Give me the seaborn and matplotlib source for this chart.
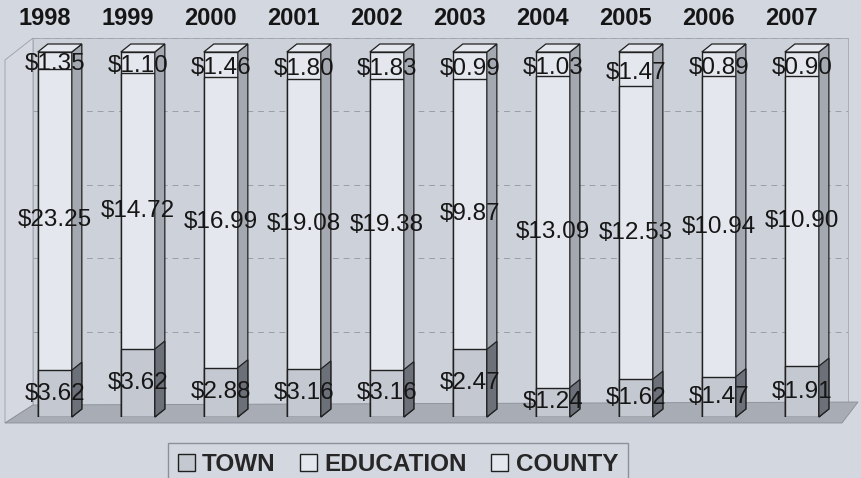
import numpy as np
import pandas as pd
import seaborn as sns
import matplotlib.pyplot as plt
from matplotlib.patches import Polygon, Patch
from matplotlib.transforms import ScaledTranslation

# values (dollars)
years = ['1998', '1999', '2000', '2001', '2002', '2003', '2004', '2005', '2006', '2007']
town = [3.62, 3.62, 2.88, 3.16, 3.16, 2.47, 1.24, 1.62, 1.47, 1.91]
education = [23.25, 14.72, 16.99, 19.08, 19.38, 9.87, 13.09, 12.53, 10.94, 10.90]
county = [1.35, 1.10, 1.46, 1.80, 1.83, 0.99, 1.03, 1.47, 0.89, 0.90]

df = pd.DataFrame({'year': years, 'TOWN': town, 'EDUCATION': education, 'COUNTY': county})
total = df[['TOWN', 'EDUCATION', 'COUNTY']].sum(axis=1)
df['town_top'] = df['TOWN'] / total * 100
df['edu_top'] = (df['TOWN'] + df['EDUCATION']) / total * 100
df['all'] = 100.0

W, H = 862, 478
BG = '#d3d7e0'
FRONT = '#e4e7ed'
TOWN_C = '#c4c8d0'
SIDE = '#a4a8b0'
SIDE_T = '#6c7079'
EDGE = '#202020'

sns.set_theme(style='white')
plt.rcParams['font.family'] = ['Liberation Sans', 'DejaVu Sans']

fig = plt.figure(figsize=(W / 100, H / 100), dpi=100, facecolor=BG)


def fx(px):
    return px / W


def fy(py):
    return 1 - py / H


# back wall with dashed gridlines
wall = fig.add_axes([fx(33), fy(405), fx(848) - fx(33), fy(38) - fy(405)], zorder=0)
wall.set_facecolor('#cdd1da')
wall.set_xlim(0, 1)
wall.set_ylim(0, 100)
wall.set_yticks(range(0, 101, 20))
wall.set_xticks([])
wall.grid(axis='y', color='#9a9ea6', linestyle=(0, (6, 5)), linewidth=0.7)
wall.tick_params(left=False, labelleft=False)
for s in wall.spines.values():
    s.set_color('#a2a6ae')
    s.set_linewidth(0.6)

# left wall
fig.add_artist(Polygon([[fx(5), fy(60)], [fx(33), fy(38)], [fx(33), fy(405)], [fx(5), fy(423)]],
                       closed=True, transform=fig.transFigure, facecolor='#d5d8e0',
                       edgecolor='#9a9ea6', lw=0.6, zorder=-1))

# main axes = front plane of the bars
ax = fig.add_axes([fx(5), fy(417), fx(850) - fx(5), fy(52) - fy(417)], zorder=1)
ax.patch.set_alpha(0)

# floor
ax.add_patch(Polygon([[fx(5), fy(423)], [fx(33), fy(405)], [fx(858), fy(402)], [fx(842), fy(423)]],
                     closed=True, transform=fig.transFigure, facecolor='#a8acb4',
                     edgecolor='#8a8e96', lw=0.6, clip_on=False, zorder=0.2))

bw = 0.41
common = dict(data=df, x='year', width=bw, edgecolor=EDGE, linewidth=1, saturation=1,
              errorbar=None, ax=ax)
sns.barplot(y='all', color=FRONT, **common)
sns.barplot(y='edu_top', color=FRONT, **common)
sns.barplot(y='town_top', color=TOWN_C, **common)

ax.set_xlim(-0.6, 9.58)
ax.set_ylim(0, 100)

# depth of bars, in data units
ppx = (fx(850) - fx(5)) * W / (ax.get_xlim()[1] - ax.get_xlim()[0])
ppy = (fy(52) - fy(417)) * H / 100
dx = 10 / ppx
dy = 8 / ppy

full_bars = ax.patches[1:1 + len(years)] if len(ax.patches) > 3 * len(years) else ax.patches[:len(years)]
for i, p in enumerate(full_bars):
    xl = p.get_x()
    xr = xl + p.get_width()
    t = df['town_top'][i]
    # right side
    ax.add_patch(Polygon([[xr, 0], [xr + dx, dy], [xr + dx, 100 + dy], [xr, 100]], closed=True,
                         facecolor=SIDE, edgecolor=EDGE, lw=0.9, clip_on=False, zorder=2))
    ax.add_patch(Polygon([[xr, 0], [xr + dx, dy], [xr + dx, t + dy], [xr, t]], closed=True,
                         facecolor=SIDE_T, edgecolor=EDGE, lw=0.9, clip_on=False, zorder=2))
    # top face
    ax.add_patch(Polygon([[xl, 100], [xl + dx, 100 + dy], [xr + dx, 100 + dy], [xr, 100]], closed=True,
                         facecolor=FRONT, edgecolor=EDGE, lw=0.9, clip_on=False, zorder=2))
    xc = xl + p.get_width() / 2
    e = df['edu_top'][i]
    lab = dict(ha='center', va='center', fontsize=17.5, color='#161616', zorder=3, clip_on=False)
    ax.text(xc, t / 2, f'${town[i]:.2f}', **lab)
    ax.text(xc, (t + e) / 2, f'${education[i]:.2f}', **lab)
    ax.text(xc, (e + 100) / 2 - 1, f'${county[i]:.2f}', **lab)

ax.xaxis.tick_top()
ax.tick_params(axis='x', length=0, pad=16, labelsize=17, labelcolor='#151515')
ax.set_yticks([])
ax.set_xlabel('')
ax.set_ylabel('')
for s in ax.spines.values():
    s.set_visible(False)
shift = ScaledTranslation(-10 / 100, 0, fig.dpi_scale_trans)
for lbl in ax.get_xticklabels():
    lbl.set_fontweight('bold')
    lbl.set_transform(lbl.get_transform() + shift)

handles = [Patch(facecolor=TOWN_C, edgecolor=EDGE, label='TOWN'),
           Patch(facecolor=FRONT, edgecolor=EDGE, label='EDUCATION'),
           Patch(facecolor=FRONT, edgecolor=EDGE, label='COUNTY')]
fig.legend(handles=handles, loc='upper center', bbox_to_anchor=(fx(398), fy(443)), ncol=3,
           frameon=True, fancybox=False, edgecolor='#8c9098', facecolor=BG, framealpha=1,
           prop={'weight': 'bold', 'size': 17.5}, handlelength=0.7, handleheight=0.7,
           handletextpad=0.3, columnspacing=1.0, borderpad=0.4, borderaxespad=0)

fig.savefig('out.png', dpi=100, facecolor=BG)
